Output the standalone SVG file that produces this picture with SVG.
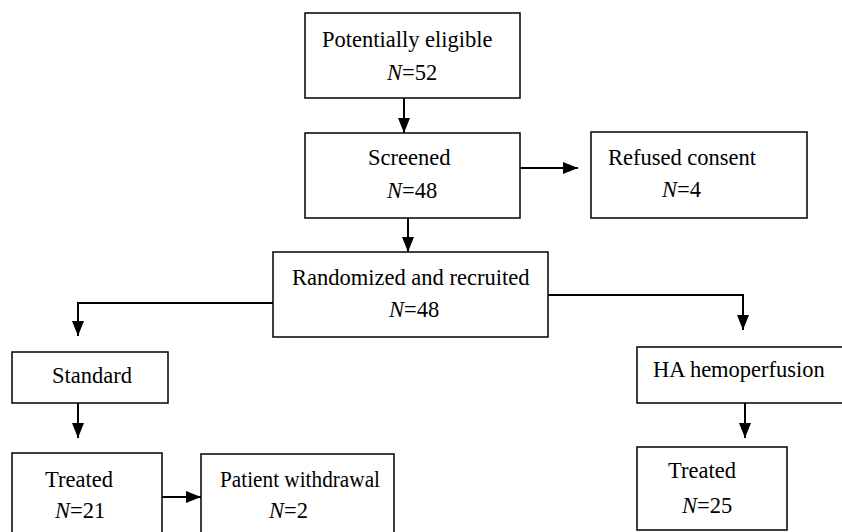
<svg xmlns="http://www.w3.org/2000/svg" width="842" height="532" viewBox="0 0 842 532">
<style>
.box{fill:#fff;stroke:#000;stroke-width:1.5}
.t{font-family:"Liberation Serif","Times New Roman",serif;font-size:22.5px;fill:#000}
.c{fill:none;stroke:#000;stroke-width:2}
</style>
<defs>
<marker id="ah" markerUnits="userSpaceOnUse" markerWidth="16" markerHeight="16" viewBox="0 0 16 16" refX="15" refY="8" orient="auto">
<path d="M0,2 L15,8 L0,14 Z" fill="#000"/>
</marker>
</defs>
<rect width="842" height="532" fill="#fff"/>
<g id="connectors">
<path class="c" d="M404,98 V133" marker-end="url(#ah)"/>
<path class="c" d="M520,168 H578" marker-end="url(#ah)"/>
<path class="c" d="M408,218 V252" marker-end="url(#ah)"/>
<path class="c" d="M273,303 H78 V336" marker-end="url(#ah)"/>
<path class="c" d="M548,295 H743 V330" marker-end="url(#ah)"/>
<path class="c" d="M78,403 V438" marker-end="url(#ah)"/>
<path class="c" d="M162,497 H201" marker-end="url(#ah)"/>
<path class="c" d="M745,403 V438" marker-end="url(#ah)"/>
</g>
<g id="eligible">
<rect class="box" x="305" y="13" width="215" height="85"/>
<text class="t" x="322" y="47">Potentially eligible</text>
<text class="t" x="387" y="80"><tspan font-style="italic">N</tspan>=52</text>
</g>
<g id="screened">
<rect class="box" x="305" y="133" width="215" height="85"/>
<text class="t" x="368" y="165">Screened</text>
<text class="t" x="387" y="198"><tspan font-style="italic">N</tspan>=48</text>
</g>
<g id="refused">
<rect class="box" x="591" y="132" width="216" height="86"/>
<text class="t" x="608" y="165">Refused consent</text>
<text class="t" x="662" y="197"><tspan font-style="italic">N</tspan>=4</text>
</g>
<g id="randomized">
<rect class="box" x="273" y="252" width="275" height="85"/>
<text class="t" x="292" y="285">Randomized and recruited</text>
<text class="t" x="389" y="317"><tspan font-style="italic">N</tspan>=48</text>
</g>
<g id="standard">
<rect class="box" x="12" y="352" width="156" height="51"/>
<text class="t" x="52" y="383">Standard</text>
</g>
<g id="ha">
<rect class="box" x="637" y="347" width="210" height="56"/>
<text class="t" x="653" y="377">HA hemoperfusion</text>
</g>
<g id="treated-standard">
<rect class="box" x="12" y="453" width="150" height="85"/>
<text class="t" x="45" y="487">Treated</text>
<text class="t" x="55" y="518"><tspan font-style="italic">N</tspan>=21</text>
</g>
<g id="withdrawal">
<rect class="box" x="201" y="454" width="193" height="84"/>
<text class="t" x="220" y="487" textLength="160" lengthAdjust="spacingAndGlyphs">Patient withdrawal</text>
<text class="t" x="269" y="518"><tspan font-style="italic">N</tspan>=2</text>
</g>
<g id="treated-ha">
<rect class="box" x="637" y="447" width="150" height="83"/>
<text class="t" x="668" y="478">Treated</text>
<text class="t" x="682" y="513"><tspan font-style="italic">N</tspan>=25</text>
</g>
</svg>
